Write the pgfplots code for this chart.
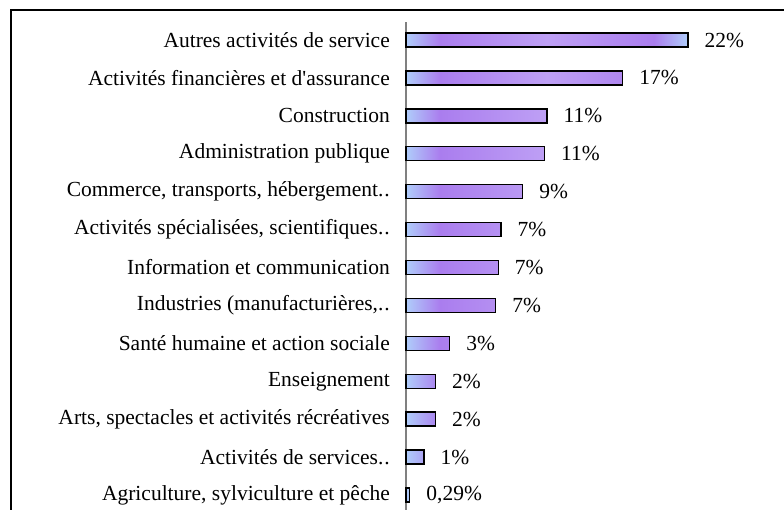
\documentclass[border=0pt]{standalone}
\usepackage{fontspec}
\setmainfont{Liberation Serif}
\usepackage{pgfplots}
\pgfplotsset{compat=1.18}
\definecolor{barblue}{RGB}{175,205,250}
\definecolor{barpurple}{RGB}{170,125,238}
\definecolor{barlav}{RGB}{190,160,245}
\pgfdeclarehorizontalshading{barshade}{100bp}{color(0bp)=(barblue); color(25bp)=(barblue);
  color(31bp)=(barpurple); color(50bp)=(barlav); color(69bp)=(barpurple);
  color(75bp)=(barblue); color(100bp)=(barblue)}
\newcommand{\lbl}{\fontsize{21.5}{24}\selectfont}

\begin{document}
\begin{tikzpicture}
  \useasboundingbox (0,0) rectangle (784pt,510pt);
  \draw[line width=2pt] (10.5pt,0) -- (10.5pt,499.5pt) -- (784pt,499.5pt);
  \begin{axis}[
    at={(406pt,0pt)}, anchor=south west,
    scale only axis, width=378pt, height=488pt,
    xmin=0, xmax=29.5, ymin=-0.396, ymax=12.475,
    xbar, bar width=14pt,
    axis x line=none,
    axis y line*=left,
    y axis line style={gray, line width=1.5pt, -},
    ytick={0,...,12},
    yticklabels={
      Agriculture{,} sylviculture et pêche,
      Activités de services.\kern1pt.,
      {Arts, spectacles et activités récréatives},
      Enseignement,
      Santé humaine et action sociale,
      {Industries (manufacturières,.\kern1pt.},
      Information et communication,
      {Activités spécialisées, scientifiques.\kern1pt.},
      {Commerce, transports, hébergement.\kern1pt.},
      Administration publique,
      Construction,
      Activités financières et d\textquotesingle assurance,
      Autres activités de service},
    major tick length=0pt,
    yticklabel style={font=\lbl, inner sep=0pt, xshift=-16pt},
    nodes near coords,
    point meta=explicit symbolic,
    every node near coord/.append style={font=\lbl, anchor=west, inner sep=0pt, xshift=16pt},
    clip=false,
  ]
    \addplot[draw=black, line width=1.4pt, shading=barshade]
      coordinates {
        (0.29,0) [{0,29\%}]
        (1.4,1) [1\%]
        (2.3,2) [2\%]
        (2.3,3) [2\%]
        (3.4,4) [3\%]
        (7.0,5) [7\%]
        (7.2,6) [7\%]
        (7.4,7) [7\%]
        (9.1,8) [9\%]
        (10.8,9) [11\%]
        (11.0,10) [11\%]
        (16.9,11) [17\%]
        (22.0,12) [22\%]
      };
  \end{axis}
\end{tikzpicture}
\end{document}
